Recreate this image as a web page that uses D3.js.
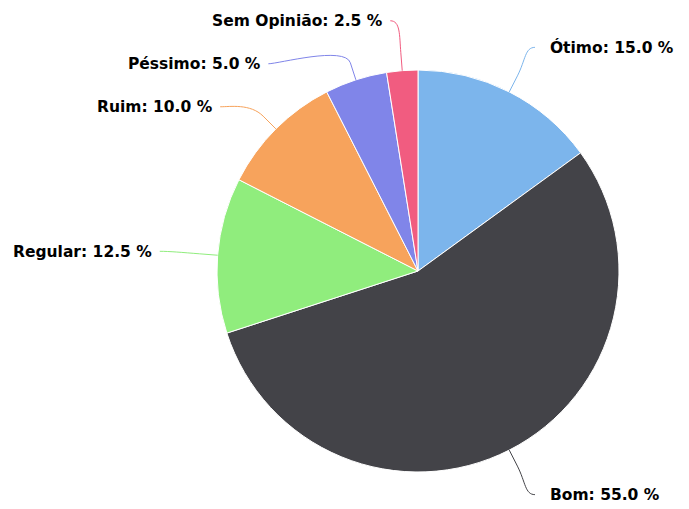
<!DOCTYPE html>
<html><head><meta charset="utf-8">
<script src="https://cdn.jsdelivr.net/npm/d3@7"></script>
<style>body{margin:0;background:#fff}</style>
</head><body>
<svg id="c" width="689" height="509"></svg>
<script>
const categories = ["Ótimo", "Bom", "Regular", "Ruim", "Péssimo", "Sem Opinião"];
const values = [15.0, 55.0, 12.5, 10.0, 5.0, 2.5];
const colors = ["#7cb5ec", "#434348", "#90ed7d", "#f7a35c", "#8085e9", "#f15c80"];

const W = 689, H = 509, cx = 418, cy = 271, r = 201;
const labelDist = 50, minGap = 43;
const svg = d3.select("#c");
const g = svg.append("g").attr("transform", `translate(${cx},${cy})`);

const data = categories.map((c, i) => ({ name: c, value: values[i], color: colors[i] }));
const pie = d3.pie().value(d => d.value).sort(null);
const arcs = pie(data);
const arc = d3.arc().innerRadius(0).outerRadius(r);

g.selectAll("path.slice").data(arcs).join("path")
  .attr("class", "slice")
  .attr("d", arc)
  .attr("fill", d => d.data.color)
  .attr("stroke", "#fff").attr("stroke-width", 1).attr("stroke-linejoin", "round");

const R = r + labelDist;
const labels = arcs.map(a => {
  const m = (a.startAngle + a.endAngle) / 2;
  return { a, m, side: Math.sin(m) >= 0 ? 1 : -1, y: -R * Math.cos(m) };
});
[1, -1].forEach(side => {
  const L = labels.filter(l => l.side === side).sort((p, q) => p.y - q.y);
  for (let i = 1; i < L.length; i++) if (L[i].y < L[i - 1].y + minGap) L[i].y = L[i - 1].y + minGap;
});
labels.forEach(l => {
  const s = Math.max(-1, Math.min(1, l.y / R));
  l.x = l.side * Math.sqrt(1 - s * s) * R + (l.side < 0 ? -8 : 3);
  l.ex = r * Math.sin(l.m); l.ey = -r * Math.cos(l.m);
  l.bx = (r + 18) * Math.sin(l.m); l.by = -(r + 18) * Math.cos(l.m);
});

g.selectAll("path.conn").data(labels).join("path")
  .attr("class", "conn")
  .attr("fill", "none")
  .attr("stroke", l => l.a.data.color).attr("stroke-width", 1)
  .attr("d", l => `M${l.x},${l.y} C${l.x - l.side * 10},${l.y} ${2 * l.bx - l.ex},${2 * l.by - l.ey} ${l.bx},${l.by} L${l.ex},${l.ey}`);

g.selectAll("text.lbl").data(labels).join("text")
  .attr("class", "lbl")
  .attr("x", l => l.x + (l.side > 0 ? 15 : -8))
  .attr("y", l => l.y)
  .attr("dy", "0.35em")
  .attr("text-anchor", l => l.side > 0 ? "start" : "end")
  .attr("font-family", "DejaVu Sans")
  .attr("font-weight", "bold")
  .attr("font-size", "15.5px")
  .attr("fill", "#000")
  .attr("stroke", "#fff").attr("stroke-width", 2).attr("paint-order", "stroke").attr("stroke-linejoin", "round")
  .text(l => `${l.a.data.name}: ${l.a.data.value.toFixed(1)} %`);
</script>
</body></html>
